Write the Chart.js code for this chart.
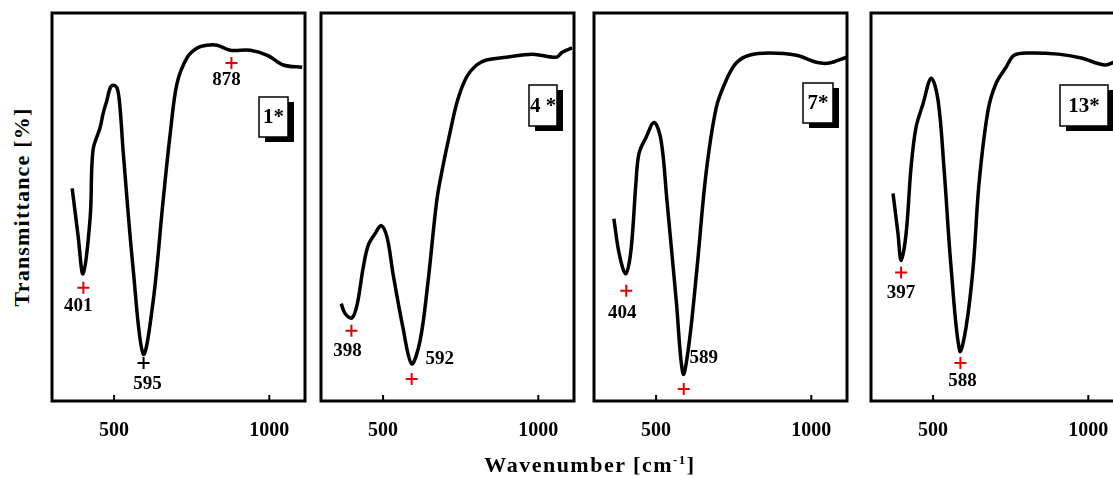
<!DOCTYPE html>
<html>
<head>
<meta charset="utf-8">
<script src="https://cdn.jsdelivr.net/npm/chart.js@4.4.1/dist/chart.umd.min.js"></script>
<style>
  html, body { margin: 0; padding: 0; background: #fff; width: 1113px; height: 477px; overflow: hidden; }
  #wrap { position: relative; width: 1113px; height: 477px; overflow: hidden; }
  canvas { position: absolute; top: 0; }
  .ytitle { position: absolute; left: 22px; top: 207px; transform: translate(-50%, -50%) rotate(-90deg);
            font: bold 22px "Liberation Serif"; letter-spacing: 1.2px; white-space: nowrap; color: #000; }
  .xtitle { position: absolute; left: 590px; top: 465px; transform: translate(-50%, -50%);
            font: bold 22px "Liberation Serif"; letter-spacing: 1.5px; white-space: nowrap; color: #000; }
  .xtitle sup { font-size: 13px; }
</style>
</head>
<body>
<div id="wrap">
  <canvas id="p1" width="280" height="453" style="left:40px"></canvas>
  <canvas id="p2" width="280" height="453" style="left:309px"></canvas>
  <canvas id="p3" width="280" height="453" style="left:582px"></canvas>
  <canvas id="p4" width="280" height="453" style="left:859px"></canvas>
  <div class="ytitle">Transmittance [%]</div>
  <div class="xtitle">Wavenumber [cm<sup>-1</sup>]</div>
</div>
<script>
// données (nombre d'onde en cm-1, transmittance en unités arbitraires)
const tickValues = [500, 1000];
const panelNames = ['1*', '4 *', '7*', '13*'];

const wn1 = [365, 384, 400, 423, 432, 455, 465, 477, 487, 497, 510, 519, 529, 561, 594, 626, 658, 681, 703, 736, 768, 800, 832, 874, 939, 994, 1045, 1106];
const tr1 = [54.8, 42.6, 32.8, 47.3, 64.6, 70.5, 74.2, 77.5, 80.6, 81.4, 80.6, 75.7, 64.6, 34.4, 12.1, 25.8, 51.7, 69.0, 81.9, 88.6, 91.0, 91.7, 91.7, 90.4, 90.4, 89.1, 86.6, 86.0];
const peakWn1 = [401, 595, 878];
const peakTr1 = [29.2, 9.8, 87.1];
const peakText1 = ['401', '595', '878'];

const wn2 = [365, 378, 400, 417, 436, 452, 474, 494, 513, 532, 564, 592, 619, 644, 673, 692, 715, 740, 769, 801, 833, 897, 981, 1058, 1077, 1109];
const tr2 = [25.1, 22.5, 21.4, 25.1, 34.4, 40.1, 43.1, 45.2, 42.1, 32.8, 18.9, 9.6, 15.5, 30.2, 51.7, 60.2, 69.0, 77.5, 83.5, 86.6, 87.9, 88.6, 89.4, 88.6, 89.9, 91.0];
const peakWn2 = [398, 592];
const peakTr2 = [18.1, 5.7];
const peakText2 = ['398', '592'];

const wn3 = [364, 381, 402, 419, 435, 445, 468, 494, 516, 535, 565, 587, 606, 632, 661, 694, 726, 758, 800, 865, 952, 1016, 1058, 1113];
const tr3 = [47.0, 38.0, 32.8, 38.8, 56.1, 63.8, 68.0, 71.8, 67.2, 51.7, 25.8, 7.0, 14.7, 34.4, 58.7, 75.7, 82.7, 87.1, 89.1, 89.7, 89.1, 87.3, 87.1, 88.6];
const peakWn3 = [404, 589];
const peakTr3 = [28.4, 3.1];
const peakText3 = ['404', '589'];

const wn4 = [371, 387, 397, 413, 429, 445, 468, 494, 516, 535, 558, 586, 606, 629, 648, 677, 703, 735, 761, 806, 903, 977, 1052, 1084, 1115];
const tr4 = [53.5, 43.1, 36.2, 43.1, 60.2, 70.5, 76.7, 83.2, 77.5, 60.2, 34.4, 12.9, 18.9, 34.4, 56.1, 74.9, 81.9, 86.0, 89.1, 89.7, 89.4, 88.4, 86.6, 87.3, 87.5];
const peakWn4 = [397, 588];
const peakTr4 = [33.1, 9.8];
const peakText4 = ['397', '588'];

// styles : décalages des étiquettes (px), couleur des croix, encadré du nom
const panels = [
  { id: 'p1', wn: wn1, tr: tr1, pw: peakWn1, pt: peakTr1, txt: peakText1,
    off: [[-5, 18], [4, 21], [-5, 17]], col: ['#e00000', '#000', '#e00000'],
    box: { r: 17, top: 97, w: 29, h: 40 } },
  { id: 'p2', wn: wn2, tr: tr2, pw: peakWn2, pt: peakTr2, txt: peakText2,
    off: [[-4, 20], [28, -20]], col: ['#e00000', '#e00000'],
    box: { r: 17, top: 85, w: 28, h: 41 } },
  { id: 'p3', wn: wn3, tr: tr3, pw: peakWn3, pt: peakTr3, txt: peakText3,
    off: [[-4, 22], [20, -31]], col: ['#e00000', '#e00000'],
    box: { r: 14, top: 83, w: 30, h: 40 } },
  { id: 'p4', wn: wn4, tr: tr4, pw: peakWn4, pt: peakTr4, txt: peakText4,
    off: [[0, 21], [2, 18]], col: ['#e00000', '#e00000'],
    box: { r: 16, top: 85, w: 48, h: 41 } }
];

const serif = 'Liberation Serif';

// cadre, petites graduations internes, étiquettes des pics et encadré du nom
const framePlugin = {
  id: 'frame',
  afterDatasetsDraw(chart, args, opts) {
    const ctx = chart.ctx;
    const a = chart.chartArea;
    const xs = chart.scales.x, ys = chart.scales.y;
    ctx.save();
    ctx.strokeStyle = '#000';
    ctx.lineWidth = 3;
    ctx.strokeRect(a.left, a.top, a.right - a.left, a.bottom - a.top);

    ctx.lineWidth = 2;
    tickValues.forEach(v => {
      const x = xs.getPixelForValue(v);
      ctx.beginPath();
      ctx.moveTo(x, a.bottom);
      ctx.lineTo(x, a.bottom - 6);
      ctx.stroke();
    });

    const p = opts.panel;
    ctx.fillStyle = '#000';
    ctx.font = 'bold 19px "' + serif + '"';
    ctx.textAlign = 'center';
    ctx.textBaseline = 'middle';
    p.txt.forEach((t, i) => {
      const x = xs.getPixelForValue(p.pw[i]) + p.off[i][0];
      const y = ys.getPixelForValue(p.pt[i]) + p.off[i][1];
      ctx.fillText(t, x, y);
    });

    const b = p.box;
    const bx = a.right - b.r - b.w;
    ctx.fillRect(bx + 6, b.top + 5, b.w, b.h);
    ctx.fillStyle = '#fff';
    ctx.fillRect(bx, b.top, b.w, b.h);
    ctx.lineWidth = 1.5;
    ctx.strokeRect(bx, b.top, b.w, b.h);
    ctx.fillStyle = '#000';
    ctx.font = 'bold 21px "' + serif + '"';
    ctx.fillText(opts.name, bx + b.w / 2, b.top + b.h / 2 + 1);
    ctx.restore();
  }
};

panels.forEach((p, k) => {
  new Chart(document.getElementById(p.id), {
    type: 'line',
    data: {
      datasets: [
        {
          data: p.wn.map((x, i) => ({ x: x, y: p.tr[i] })),
          borderColor: '#000',
          borderWidth: 3.5,
          pointRadius: 0,
          tension: 0.35,
          fill: false
        },
        {
          data: p.pw.map((x, i) => ({ x: x, y: p.pt[i] })),
          showLine: false,
          pointStyle: 'cross',
          pointRadius: 6,
          pointBorderWidth: 2,
          pointBorderColor: p.col,
          pointBackgroundColor: p.col
        }
      ]
    },
    options: {
      responsive: false,
      animation: false,
      events: [],
      layout: { padding: { left: 12, right: 15, top: 13, bottom: 0 } },
      plugins: {
        legend: { display: false },
        tooltip: { enabled: false },
        frame: { panel: p, name: panelNames[k] }
      },
      scales: {
        x: {
          type: 'linear',
          min: 300,
          max: 1115,
          afterBuildTicks: s => { s.ticks = tickValues.map(v => ({ value: v })); },
          grid: { display: false },
          border: { display: false },
          ticks: {
            color: '#000',
            padding: 10,
            maxRotation: 0,
            autoSkip: false,
            font: { family: serif, weight: 'bold', size: 20 },
            callback: v => String(v)
          }
        },
        y: { min: 0, max: 100, display: false }
      }
    },
    plugins: [framePlugin]
  });
});
</script>
</body>
</html>
